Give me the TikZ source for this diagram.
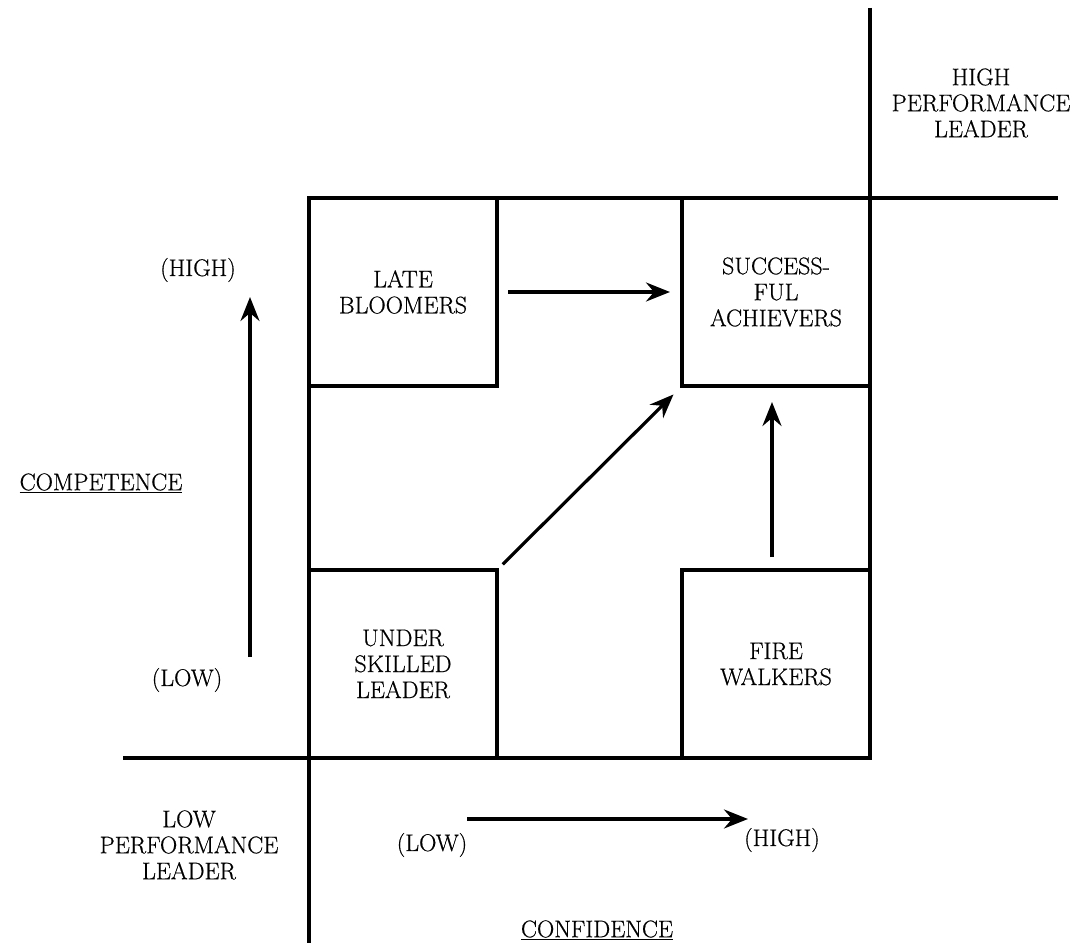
\documentclass[tikz,border=0pt]{standalone}
\usepackage{fontspec}
\setmainfont{Latin Modern Roman}[UprightFeatures={FakeBold=0.6}]
\usetikzlibrary{arrows.meta}

\begin{document}
\begin{tikzpicture}[
    x=1pt, y=-1pt,
    font=\fontsize{24}{26}\selectfont,
    >={Stealth[length=24pt, width=19pt, inset=8pt]},
    % Styles
    axis_line/.style={line width=3.2pt},
    quad_box/.style={draw, line width=3.2pt, outer sep=0pt, inner sep=0pt, minimum width=188pt, minimum height=188pt, align=center},
    flow_arrow/.style={->, line width=3.2pt},
    zone_label/.style={align=center}
]
\useasboundingbox (0,0) rectangle (1088,947);

% 1. Frame lines
\draw[axis_line] (123,758) -- (870,758);
\draw[axis_line] (309,198) -- (309,943);
\draw[axis_line] (870,8) -- (870,758);
\draw[axis_line] (309,198) -- (1058,198);

% 2. Quadrant boxes
\node[quad_box, anchor=north west] (late) at (309,198) {LATE\\BLOOMERS};
\node[quad_box, anchor=north east] (achiever) at (870,198) {SUCCESS-\\FUL\\ACHIEVERS};
\node[quad_box, anchor=south west] (under) at (309,758) {UNDER\\SKILLED\\LEADER};
\node[quad_box, anchor=south east] (fire) at (870,758) {FIRE\\WALKERS};

% 3. Moves towards the achievers
\draw[flow_arrow, shorten <=11pt, shorten >=12pt] (late.east) -- (late.east -| achiever.west);
\draw[flow_arrow, shorten <=8pt, shorten >=12pt] (under.north east) -- (achiever.south west);
\draw[flow_arrow, shorten <=13pt, shorten >=16pt] ([xshift=-4pt]fire.north) -- ([xshift=-4pt]fire.north |- achiever.south);

% 4. Zone labels
\node[zone_label] (high_perf) at (981,103) {HIGH\\PERFORMANCE\\LEADER};
\node[zone_label] (low_perf) at (189,845) {LOW\\PERFORMANCE\\LEADER};

% Annotations
% Competence axis (vertical)
\coordinate (comp_low) at (250,657);
\coordinate (comp_high) at (250,297);
\draw[flow_arrow] (comp_low) -- (comp_high);
\node (comp_high_lbl) at (198,270) {(HIGH)};
\node (comp_lbl) at (101,483) {\underline{COMPETENCE}};
\node (comp_low_lbl) at (187,680) {(LOW)};

% Confidence axis (horizontal)
\coordinate (conf_low) at (467,819);
\coordinate (conf_high) at (748,819);
\draw[flow_arrow] (conf_low) -- (conf_high);
\node (conf_low_lbl) at (432,845) {(LOW)};
\node (conf_high_lbl) at (782,840) {(HIGH)};
\node (conf_lbl) at (597,930) {\underline{CONFIDENCE}};

\end{tikzpicture}
\end{document}
